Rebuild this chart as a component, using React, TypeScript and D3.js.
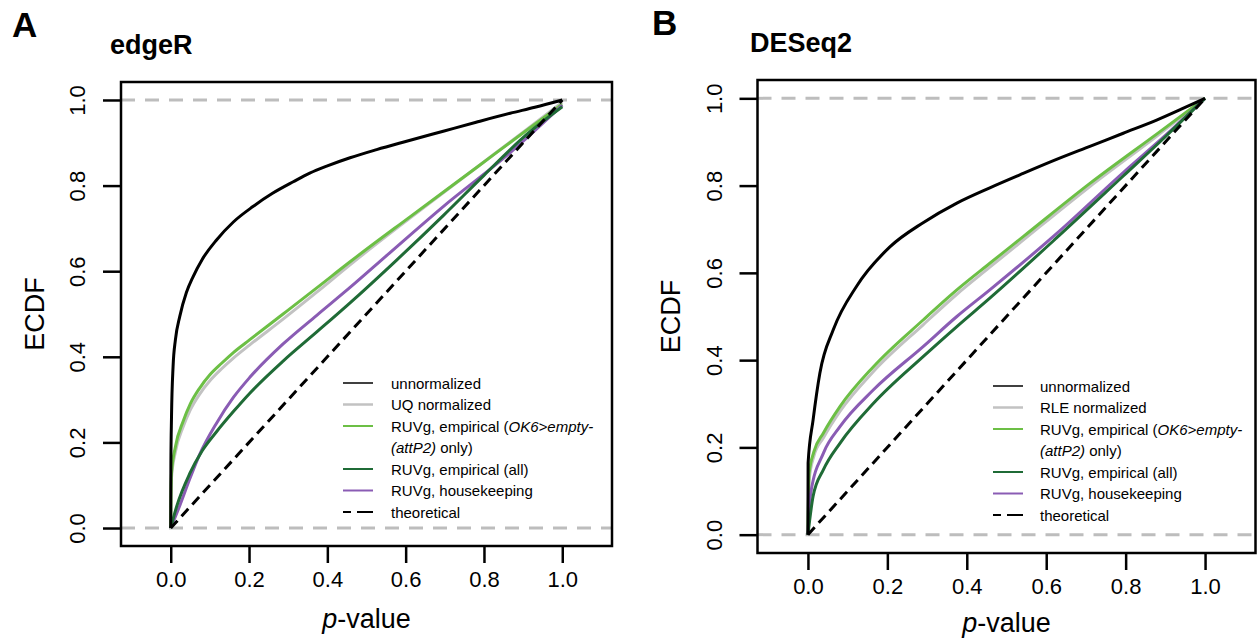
import React, { useRef, useEffect } from "react";
import * as d3 from "d3";

const xTicks = [0, 0.2, 0.4, 0.6, 0.8, 1.0];
const yTicks = [0, 0.2, 0.4, 0.6, 0.8, 1.0];

// ---- edgeR (panel A), [p-value, ECDF] ----
const edgerUnnormalized = [
  [0, 0], [0.0004, 0.15], [0.002, 0.26], [0.006, 0.377], [0.012, 0.44], [0.023, 0.494],
  [0.04, 0.55], [0.057, 0.587], [0.08, 0.627], [0.117, 0.673], [0.16, 0.715], [0.21, 0.751],
  [0.26, 0.782], [0.313, 0.809], [0.355, 0.829], [0.4, 0.846], [0.458, 0.865], [0.526, 0.884],
  [0.6, 0.903], [0.696, 0.927], [0.78, 0.948], [0.867, 0.969], [0.93, 0.983], [1, 1],
];
const edgerUQ = [
  [0, 0], [0.0005, 0.06], [0.002, 0.118], [0.012, 0.178], [0.032, 0.237], [0.05, 0.276],
  [0.074, 0.313], [0.1, 0.344], [0.13, 0.372], [0.16, 0.397], [0.202, 0.428], [0.287, 0.488],
  [0.373, 0.551], [0.458, 0.615], [0.611, 0.724], [0.782, 0.843], [0.91, 0.932], [1, 0.995],
];
const edgerEmpiricalOK6 = [
  [0, 0], [0.0005, 0.07], [0.002, 0.128], [0.012, 0.19], [0.032, 0.25], [0.05, 0.29],
  [0.074, 0.327], [0.1, 0.358], [0.13, 0.385], [0.16, 0.41], [0.202, 0.44], [0.287, 0.5],
  [0.373, 0.561], [0.458, 0.622], [0.611, 0.727], [0.782, 0.843], [0.91, 0.93], [1, 0.99],
];
const edgerEmpiricalAll = [
  [0, 0], [0.015, 0.05], [0.049, 0.128], [0.08, 0.18], [0.117, 0.225], [0.16, 0.272],
  [0.202, 0.315], [0.287, 0.39], [0.373, 0.458], [0.458, 0.526], [0.577, 0.626], [0.696, 0.73],
  [0.8, 0.824], [0.91, 0.92], [1, 0.984],
];
const edgerHousekeeping = [
  [0, 0], [0.02, 0.045], [0.05, 0.118], [0.074, 0.172], [0.117, 0.245], [0.16, 0.305],
  [0.202, 0.352], [0.287, 0.43], [0.373, 0.497], [0.458, 0.562], [0.552, 0.637], [0.696, 0.751],
  [0.867, 0.877], [1, 0.988],
];

// ---- DESeq2 (panel B) ----
const deseqUnnormalized = [
  [0, 0], [0.0004, 0.164], [0.013, 0.263], [0.03, 0.37], [0.064, 0.47], [0.123, 0.57],
  [0.207, 0.66], [0.29, 0.715], [0.375, 0.76], [0.458, 0.795], [0.542, 0.828], [0.626, 0.86],
  [0.71, 0.89], [0.794, 0.92], [0.878, 0.95], [0.94, 0.975], [1, 1],
];
const deseqRLE = [
  [0, 0], [0.003, 0.125], [0.015, 0.18], [0.039, 0.222], [0.081, 0.283], [0.165, 0.374],
  [0.29, 0.481], [0.375, 0.551], [0.458, 0.613], [0.542, 0.675], [0.71, 0.798], [0.878, 0.913], [1, 1],
];
const deseqEmpiricalOK6 = [
  [0, 0], [0.003, 0.141], [0.015, 0.19], [0.039, 0.233], [0.081, 0.294], [0.165, 0.385],
  [0.29, 0.492], [0.375, 0.561], [0.458, 0.622], [0.542, 0.683], [0.71, 0.805], [0.878, 0.918], [1, 1],
];
const deseqEmpiricalAll = [
  [0, 0], [0.013, 0.088], [0.039, 0.149], [0.081, 0.21], [0.165, 0.301], [0.29, 0.408],
  [0.375, 0.477], [0.458, 0.542], [0.626, 0.68], [0.794, 0.822], [0.9, 0.912], [1, 1],
];
const deseqHousekeeping = [
  [0, 0], [0.007, 0.095], [0.039, 0.187], [0.081, 0.248], [0.165, 0.332], [0.29, 0.431],
  [0.375, 0.5], [0.458, 0.561], [0.626, 0.69], [0.794, 0.83], [0.9, 0.915], [1, 1],
];

const theoretical = [[0, 0], [1, 1]];

const legendA = ["unnormalized", "UQ normalized", "RUVg, empirical", "RUVg, empirical (all)", "RUVg, housekeeping", "theoretical"];
const legendB = ["unnormalized", "RLE normalized", "RUVg, empirical", "RUVg, empirical (all)", "RUVg, housekeeping", "theoretical"];

const colUnnorm = "#000000";
const colNorm = "#c2c2c2";
const colLight = "#6cbf45";
const colDark = "#1f6b36";
const colPurple = "#8a5cb4";

const FONT = "'Liberation Sans', Arial, Helvetica, sans-serif";

const panels = [
  {
    letter: "A", title: "edgeR", letterX: 12, letterY: 37, titleX: 110, titleY: 54,
    box: [121, 612, 82, 546], ylabX: 44, xtickY: 587, xlabY: 628,
    legX: 343, legTextX: 391, legY: 383, legend: legendA,
    series: [edgerUQ, edgerEmpiricalOK6, edgerHousekeeping, edgerEmpiricalAll, edgerUnnormalized],
  },
  {
    letter: "B", title: "DESeq2", letterX: 652, letterY: 35, titleX: 750, titleY: 52,
    box: [757.5, 1255.5, 80, 553], ylabX: 680, xtickY: 594, xlabY: 632,
    legX: 993, legTextX: 1040, legY: 386, legend: legendB,
    series: [deseqRLE, deseqEmpiricalOK6, deseqHousekeeping, deseqEmpiricalAll, deseqUnnormalized],
  },
];
const seriesColors = [colNorm, colLight, colPurple, colDark, colUnnorm];

const ECDFPanels = () => {
  const svgRef = useRef<SVGSVGElement>(null);

  useEffect(() => {
    document.body.style.margin = "0";
    const svg = d3.select(svgRef.current);
    svg.selectAll("*").remove();

    panels.forEach((pn) => {
      const [bx0, bx1, by0, by1] = pn.box;
      const x = d3.scaleLinear().domain([-0.127, 1.127]).range([bx0, bx1]);
      const y = d3.scaleLinear().domain([-0.042, 1.042]).range([by1, by0]);
      const g = svg.append("g").style("font-family", FONT);

      g.append("text").attr("x", pn.letterX).attr("y", pn.letterY)
        .style("font-size", "35px").style("font-weight", "bold").text(pn.letter);
      g.append("text").attr("x", pn.titleX).attr("y", pn.titleY)
        .style("font-size", "27px").style("font-weight", "bold").text(pn.title);

      // reference lines at 0 and 1
      g.selectAll("line.ref").data([0, 1]).join("line")
        .attr("x1", bx0).attr("x2", bx1)
        .attr("y1", (d) => y(d)).attr("y2", (d) => y(d))
        .attr("stroke", "#bdbdbd").attr("stroke-width", 3)
        .attr("stroke-dasharray", "14,10");

      const line = d3.line<number[]>()
        .x((d) => x(d[0]))
        .y((d) => y(d[1]))
        .curve(d3.curveMonotoneX);

      pn.series.forEach((s, i) => {
        g.append("path").datum(s)
          .attr("fill", "none")
          .attr("stroke", seriesColors[i])
          .attr("stroke-width", 3)
          .attr("stroke-linejoin", "round")
          .attr("d", line);
      });

      g.append("path").datum(theoretical)
        .attr("fill", "none").attr("stroke", "#000").attr("stroke-width", 3)
        .attr("stroke-dasharray", "10,6")
        .attr("d", d3.line<number[]>().x((d) => x(d[0])).y((d) => y(d[1])));

      // box
      g.append("rect").attr("x", bx0).attr("y", by0)
        .attr("width", bx1 - bx0).attr("height", by1 - by0)
        .attr("fill", "none").attr("stroke", "#000").attr("stroke-width", 2.5);

      // x axis
      const xAxis = d3.axisBottom(x).tickValues(xTicks).tickSize(17)
        .tickPadding(6).tickFormat(d3.format(".1f"));
      const gx = g.append("g").attr("transform", `translate(0,${by1})`).call(xAxis);
      gx.select(".domain").remove();
      gx.selectAll(".tick line").attr("stroke", "#000").attr("stroke-width", 2.5);
      gx.selectAll(".tick text").attr("y", pn.xtickY - by1).attr("dy", null)
        .style("font-size", "22px").style("font-family", FONT).attr("fill", "#000");

      // y axis
      const yAxis = d3.axisLeft(y).tickValues(yTicks).tickSize(18).tickFormat(d3.format(".1f"));
      const gy = g.append("g").attr("transform", `translate(${bx0},0)`).call(yAxis);
      gy.select(".domain").remove();
      gy.selectAll(".tick line").attr("stroke", "#000").attr("stroke-width", 2.5);
      gy.selectAll(".tick text")
        .attr("x", null).attr("dy", null)
        .attr("text-anchor", "middle")
        .attr("transform", "translate(-36,0) rotate(-90)")
        .style("font-size", "22px").style("font-family", FONT).attr("fill", "#000");

      g.append("text")
        .attr("transform", `translate(${pn.ylabX},${(y(0) + y(1)) / 2}) rotate(-90)`)
        .attr("text-anchor", "middle").style("font-size", "27px").text("ECDF");

      const xl = g.append("text").attr("x", x(0.5)).attr("y", pn.xlabY)
        .attr("text-anchor", "middle").style("font-size", "27px");
      xl.append("tspan").style("font-style", "italic").text("p");
      xl.append("tspan").text("-value");

      // legend
      const rowH = 21.5;
      const rows = [0, 1, 2, 4, 5, 6];
      const legStyles = [
        { c: "#000", w: 1.5, dash: null },
        { c: colNorm, w: 2.5, dash: null },
        { c: colLight, w: 2, dash: null },
        { c: colDark, w: 2, dash: null },
        { c: colPurple, w: 2, dash: null },
        { c: "#000", w: 2, dash: "8,6,16" },
      ];
      pn.legend.forEach((lab, i) => {
        const ry = pn.legY + rows[i] * rowH;
        const st = legStyles[i];
        const l = g.append("line").attr("x1", pn.legX).attr("x2", pn.legX + 30)
          .attr("y1", ry).attr("y2", ry)
          .attr("stroke", st.c).attr("stroke-width", st.w);
        if (st.dash) l.attr("stroke-dasharray", st.dash);
        const t = g.append("text").attr("x", pn.legTextX).attr("y", ry + 5.5)
          .style("font-size", "15px");
        if (i === 2) {
          t.append("tspan").text("RUVg, empirical (");
          t.append("tspan").style("font-style", "italic").text("OK6>empty-");
          const t2 = g.append("text").attr("x", pn.legTextX).attr("y", ry + rowH + 5.5)
            .style("font-size", "15px");
          t2.append("tspan").style("font-style", "italic").text("(attP2)");
          t2.append("tspan").text(" only)");
        } else {
          t.text(lab);
        }
      });
    });
  }, []);

  return <svg ref={svgRef} width={1260} height={638} style={{ display: "block", background: "#fff" }}></svg>;
};

export default function App() {
  return <ECDFPanels />;
}
